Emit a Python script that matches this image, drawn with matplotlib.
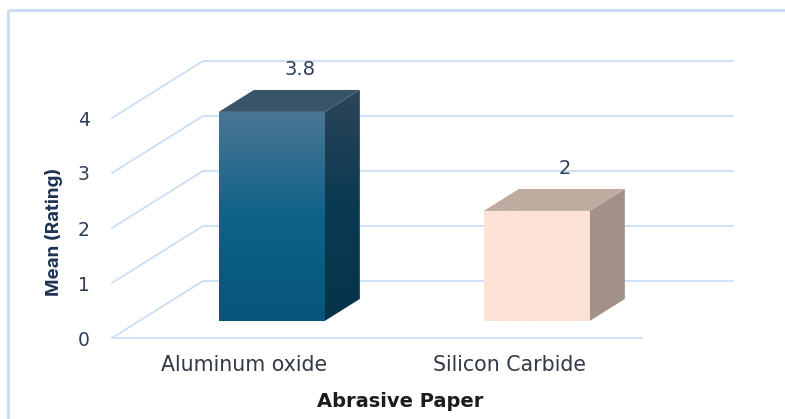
import numpy as np
import matplotlib
matplotlib.use("Agg")
import matplotlib.pyplot as plt
from matplotlib.colors import LinearSegmentedColormap
from matplotlib.lines import Line2D
from matplotlib.patches import Polygon

categories = ["Aluminum oxide", "Silicon Carbide"]
mean_rating = [3.8, 2]
value_labels = ["3.8", "2"]
y_ticks = [0, 1, 2, 3, 4]

W, H = 785, 419
GRID = "#cadef5"
TEXT = "#2d3f57"
FONT = "DejaVu Sans"

fig = plt.figure(figsize=(W / 100, H / 100), dpi=100, facecolor="white")
# Front plane of the 3D box: 265 px per category, 55 px per rating unit
ax = fig.add_axes([112 / W, (H - 338) / H, 530 / W, 220 / H])
ax.set_xlim(0, 2)
ax.set_ylim(0, 4)
ax.patch.set_alpha(0)
for s in ax.spines.values():
    s.set_visible(False)

# Depth vector of the box, in data units
DX, DY = 91 / 265, 57 / 55


def project(x, y, z):
    return x + z * DX, y + z * DY


# Outer chart frame
for xs, ys in [((8, 8), (0, 409)), ((8, 785), (409, 409))]:
    fig.add_artist(Line2D([v / W for v in xs], [v / H for v in ys],
                          color=GRID, lw=2.2, solid_capstyle="butt"))

# Floor edge, side-wall diagonals and back-wall gridlines
ax.plot([0, 2], [0, 0], color=GRID, lw=1.3, clip_on=False, zorder=1)
for t in y_ticks:
    bx, by = project(0, t, 1)
    ax.plot([0, bx, 2 + DX], [t, by, by], color=GRID, lw=1.3,
            clip_on=False, zorder=1)

BAR_W = 0.4
Z0, Z1 = 0.3, 0.685

styles = [
    dict(front=["#07557a", "#0e6288", "#4b7695"],
         side=["#063349", "#0a3a52", "#2d4458"], top="#395469"),
    dict(front=["#fde2d7", "#fde2d7"], side=["#a39187", "#a39187"], top="#bfaca0"),
]


def shaded(poly_pts, colors, bottom, top, zorder):
    left, right = min(p[0] for p in poly_pts), max(p[0] for p in poly_pts)
    cmap = LinearSegmentedColormap.from_list("face", colors)
    img = ax.imshow(np.linspace(0, 1, 256)[:, None], origin="lower", aspect="auto",
                    cmap=cmap, extent=(left, right, bottom, top), zorder=zorder)
    # The face may rise past the axes box, so only its own outline clips it
    img.set_clip_box(fig.bbox)
    img.set_clip_path(Polygon(poly_pts, closed=True, transform=ax.transData))


for i, (val, label, st) in enumerate(zip(mean_rating, value_labels, styles)):
    c = i + 0.5
    x0, x1 = c - BAR_W / 2, c + BAR_W / 2
    a = project(x0, 0, Z0)
    b = project(x1, 0, Z0)
    d = project(x1, val, Z0)
    e = project(x0, val, Z0)
    f = project(x1, 0, Z1)
    g = project(x1, val, Z1)
    h = project(x0, val, Z1)
    shaded([a, b, d, e], st["front"], a[1], d[1], 3)
    shaded([b, f, g, d], st["side"], b[1], g[1], 3)
    ax.add_patch(Polygon([e, d, g, h], closed=True, facecolor=st["top"],
                         edgecolor="none", zorder=3, clip_on=False))
    # Value label sits above the bar, centred over its top face
    ax.annotate(label, xy=project(c, val, Z0), xytext=(28.5, 42),
                textcoords="offset pixels", ha="center", va="center",
                color=TEXT, fontsize=14, family=FONT, zorder=5,
                annotation_clip=False)

ax.set_xlim(0, 2)
ax.set_ylim(0, 4)
ax.set_aspect("auto")

ax.set_xticks([0.5, 1.5], categories)
ax.set_yticks(y_ticks)
ax.tick_params(length=0)
ax.tick_params(axis="x", pad=12, labelsize=14.8, labelcolor="#333a45")
ax.tick_params(axis="y", pad=16, labelsize=13.5, labelcolor=TEXT)
for t in ax.get_xticklabels() + ax.get_yticklabels():
    t.set_family(FONT)

fig.text(400 / W, 1 - 401 / H, "Abrasive Paper", ha="center", va="center",
         fontsize=14, fontweight="bold", family=FONT, color="#1c1c1c")
fig.text(54 / W, 1 - 232 / H, "Mean (Rating)", rotation=90, ha="center", va="center",
         fontsize=13.5, fontweight="bold", family="Inter", color="#1f3350")

fig.savefig("out.png", dpi=100)
